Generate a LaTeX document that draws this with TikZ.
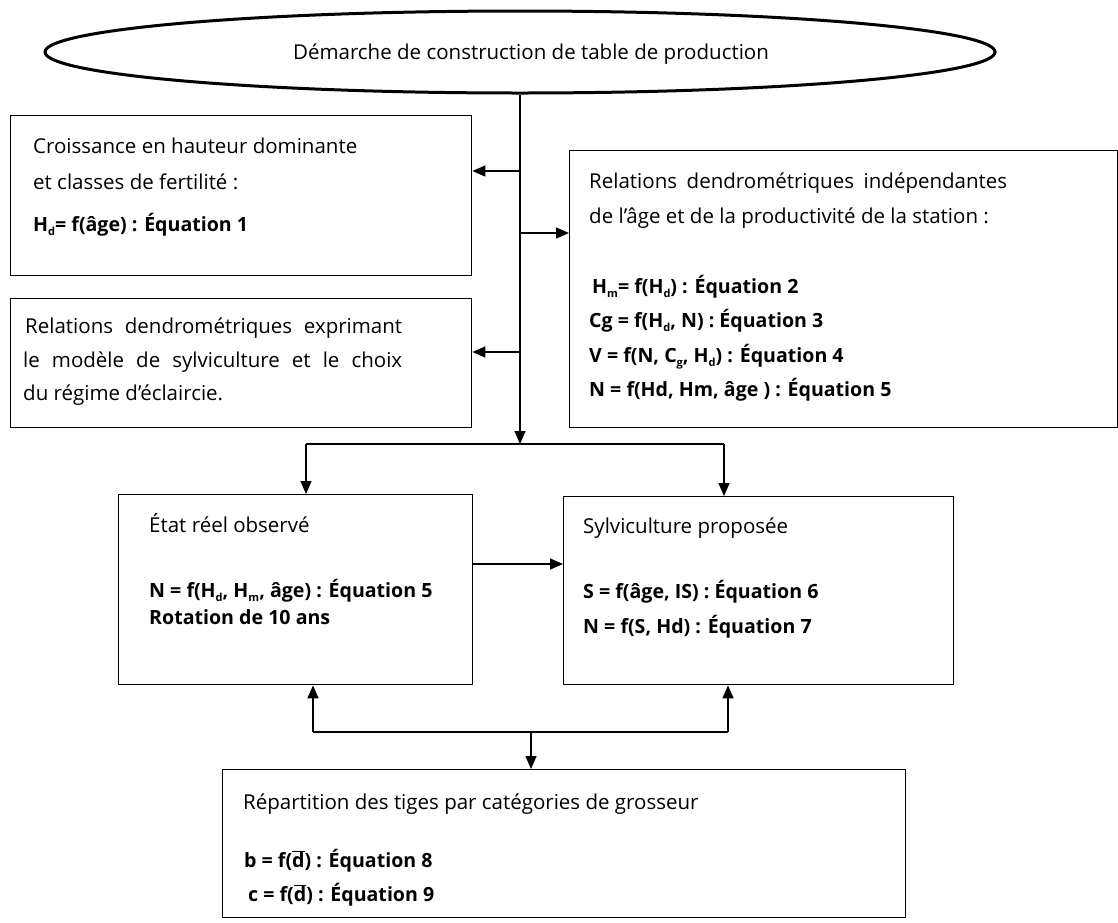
\documentclass[tikz,border=0pt]{standalone}
\usepackage{fontspec}
\setmainfont{Open Sans}
\usetikzlibrary{arrows.meta,shapes.geometric}
\newcommand{\sbs}[1]{\raisebox{-4.5pt}{\fontsize{11}{11}\selectfont #1}}
\newcommand{\dbar}{\ensuremath{\overline{\mbox{d}}}}
\tikzset{
  x=1pt, y=-1pt,
  box/.style={draw, line width=1.4pt, rectangle, inner sep=0pt, anchor=north west},
  txt/.style={anchor=base west, inner sep=0pt, font=\fontsize{20.5}{24}\selectfont},
  btxt/.style={txt, font=\fontsize{19.6}{24}\selectfont\bfseries},
  conn/.style={line width=1.4pt},
  arr/.style={conn, -{Triangle[length=13pt,width=11pt]}}
}
\begin{document}
\begin{tikzpicture}
\useasboundingbox (0,0) rectangle (1118,922);
% top ellipse
\node[ellipse, draw, line width=3pt, inner sep=0pt, minimum width=950, minimum height=82] (top) at (520,52) {};
\node[anchor=base, inner sep=0pt, font=\fontsize{20.5}{24}\selectfont] (toptxt) at (531,59) {Démarche de construction de table de production};
% boxes
\node[box, minimum width=461, minimum height=160] (b1) at (10,115) {};
\node[box, minimum width=461, minimum height=129] (b2) at (10,298) {};
\node[box, minimum width=548, minimum height=277] (b3) at (569,150) {};
\node[box, minimum width=354, minimum height=190] (etat) at (118,494) {};
\node[box, minimum width=390, minimum height=188] (sylv) at (563,496) {};
\node[box, minimum width=683, minimum height=148] (bot) at (222,769) {};
% box 1 text
\node[txt] (b1a) at (33,153) {Croissance en hauteur dominante};
\node[txt] (b1b) at (33,189) {et classes de fertilité :};
\node[btxt] (b1c) at (33,231) {H\sbs{d}= f(âge) : Équation 1};
% box 2 text
\node[txt] (b2a) at (25,333) {\makebox[377pt][s]{Relations dendrométriques exprimant}};
\node[txt] (b2b) at (23,367) {\makebox[379pt][s]{le modèle de sylviculture et le choix}};
\node[txt] (b2c) at (23,400) {du régime d’éclaircie.};
% box 3 text
\node[txt] (b3a) at (589,188) {\makebox[418pt][s]{Relations dendrométriques indépendantes}};
\node[txt] (b3b) at (589,223) {de l’âge et de la productivité de la station :};
\node[btxt] (b3c) at (592,293) {H\sbs{m}= f(H\sbs{d}) : Équation 2};
\node[btxt] (b3d) at (589,327) {Cg = f(H\sbs{d}, N) : Équation 3};
\node[btxt] (b3e) at (589,362) {V = f(N, C\sbs{g}, H\sbs{d}) : Équation 4};
\node[btxt] (b3f) at (589,396) {N = f(Hd, Hm, âge ) : Équation 5};
% etat text
\node[txt] (e1) at (149,532) {État réel observé};
\node[btxt] (e2) at (149,597) {N = f(H\sbs{d}, H\sbs{m}, âge) : Équation 5};
\node[btxt] (e3) at (149,624) {Rotation de 10 ans};
% sylv text
\node[txt] (s1t) at (583,533) {Sylviculture proposée};
\node[btxt] (s2t) at (583,598) {S = f(âge, IS) : Équation 6};
\node[btxt] (s3t) at (583,633) {N = f(S, Hd) : Équation 7};
% bottom text
\node[txt] (r1) at (243,809) {Répartition des tiges par catégories de grosseur};
\node[btxt] (r2) at (244,867) {b = f(\dbar) : Équation 8};
\node[btxt] (r3) at (248,901) {c = f(\dbar) : Équation 9};
% connectors
\coordinate (sp) at (520,444);
\coordinate (p1) at (520,171);
\coordinate (p2) at (520,233);
\coordinate (p3) at (520,352);
\draw[arr] (top.south) -- (sp);
\draw[arr] (p1) -- (p1 -| b1.east);
\draw[arr] (p2) -- (p2 -| b3.west);
\draw[arr] (p3) -- (p3 -| b2.east);
\coordinate (jl) at (306,444);
\coordinate (jr) at (724,444);
\draw[conn] (jl) -- (jr);
\draw[arr] (jl) -- (jl |- etat.north);
\draw[arr] (jr) -- (jr |- sylv.north);
\coordinate (h1) at (472,564);
\draw[arr] (h1) -- (h1 -| sylv.west);
\coordinate (kl) at (313,732);
\coordinate (kr) at (728,732);
\coordinate (km) at (531,732);
\draw[conn] (kl) -- (kr);
\draw[arr] (kl) -- (kl |- etat.south);
\draw[arr] (kr) -- (kr |- sylv.south);
\draw[arr] (km) -- (km |- bot.north);
\end{tikzpicture}
\end{document}
